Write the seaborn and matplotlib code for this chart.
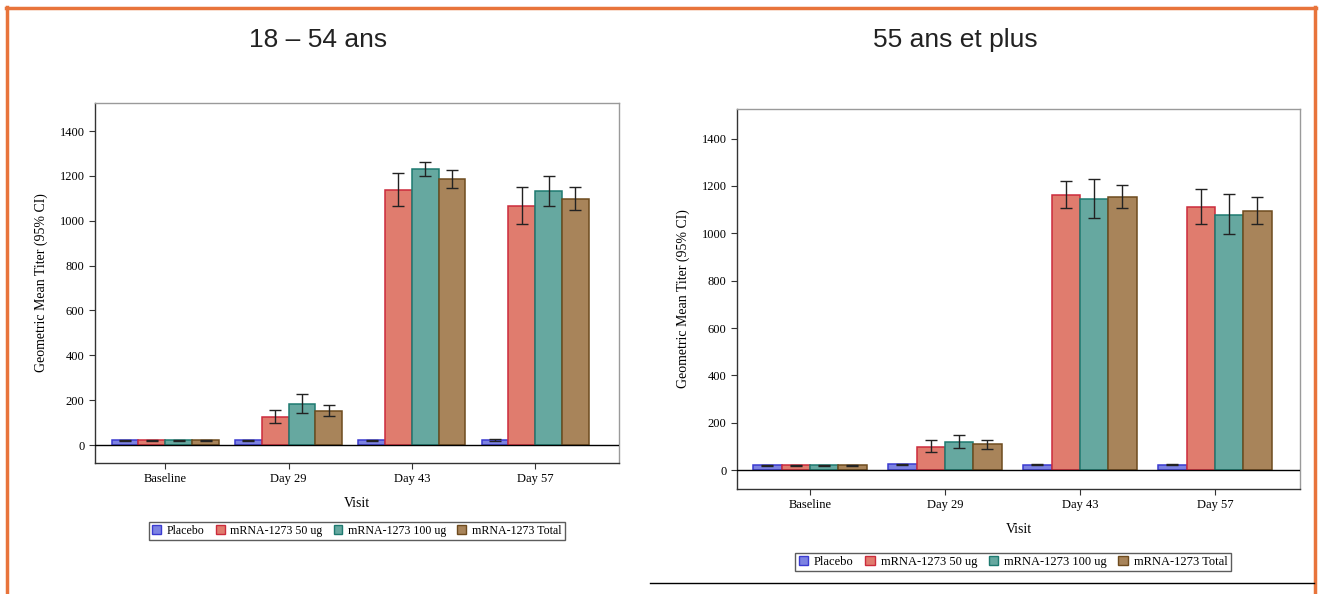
import pandas as pd
import numpy as np
import matplotlib
matplotlib.use("Agg")
import matplotlib.pyplot as plt
from matplotlib.patches import Patch
from matplotlib.lines import Line2D
import seaborn as sns

visits = ["Baseline", "Day 29", "Day 43", "Day 57"]
groups = ["Placebo", "mRNA-1273 50 ug", "mRNA-1273 100 ug", "mRNA-1273 Total"]

# 18 - 54 ans : GMT and 95% CI, one row per group
gmt_young = [[21, 21, 21, 22],
             [21, 126, 1139, 1064],
             [21, 183, 1231, 1133],
             [21, 151, 1186, 1099]]
lo_young = [[19, 19, 19, 20],
            [19, 99, 1067, 986],
            [19, 145, 1198, 1067],
            [20, 129, 1148, 1047]]
hi_young = [[23, 24, 23, 25],
            [23, 157, 1213, 1149],
            [23, 227, 1262, 1198],
            [22, 178, 1225, 1152]]

# 55 ans et plus
gmt_old = [[21, 24, 22, 22],
           [21, 98, 1161, 1112],
           [21, 118, 1146, 1078],
           [21, 108, 1153, 1094]]
lo_old = [[19, 21, 20, 20],
          [19, 75, 1106, 1040],
          [19, 93, 1066, 995],
          [19, 89, 1105, 1040]]
hi_old = [[23, 27, 25, 24],
          [23, 129, 1219, 1188],
          [23, 149, 1229, 1167],
          [23, 129, 1202, 1153]]

yticks = [0, 200, 400, 600, 800, 1000, 1200, 1400]

fills = ["#7C82E2", "#E07C6E", "#66A8A0", "#A8845A"]
edges = ["#3B3BD0", "#CC2B3C", "#1E7A70", "#6E4B1E"]

SERIF = "Liberation Serif"
SANS = "Liberation Sans"

plt.rcParams['font.family'] = SERIF


def long_frame(gmt, lo, hi):
    rows = []
    for g, name in enumerate(groups):
        for v, visit in enumerate(visits):
            rows.append({"Visit": visit, "Group": name, "GMT": gmt[g][v],
                         "lo": lo[g][v], "hi": hi[g][v]})
    return pd.DataFrame(rows)


def panel(ax, df, width, xlim):
    sns.barplot(data=df, x="Visit", y="GMT", hue="Group", order=visits,
                hue_order=groups, palette=fills, errorbar=None, width=width,
                legend=False, ax=ax, saturation=1, linewidth=1.1, zorder=2)
    bar_conts = list(ax.containers)
    for i, cont in enumerate(bar_conts):
        sub = df[df["Group"] == groups[i]].set_index("Visit").loc[visits]
        xs = []
        for bar in cont:
            bar.set_edgecolor(edges[i])
            bar.set_alpha(1)
            xs.append(bar.get_x() + bar.get_width() / 2)
        y = sub["GMT"].to_numpy()
        err = [y - sub["lo"].to_numpy(), sub["hi"].to_numpy() - y]
        ax.errorbar(xs, y, yerr=err, fmt="none", ecolor="#222222",
                    elinewidth=1.0, capsize=4, capthick=1.0, zorder=3)
    ax.axhline(0, color="black", lw=1.0, zorder=4)
    ax.set_ylim(-80, 1525)
    ax.set_xlim(*xlim)
    ax.set_yticks(yticks)
    ax.set_ylabel("Geometric Mean Titer (95% CI)", fontsize=10, labelpad=8)
    ax.set_xlabel("Visit", fontsize=10, labelpad=8)
    ax.tick_params(axis="both", labelsize=9, length=4, width=0.8,
                   direction="out", color="#333333")
    ax.set_facecolor("white")
    for side in ["left", "bottom"]:
        ax.spines[side].set_color("#333333")
        ax.spines[side].set_linewidth(1.0)
    for side in ["top", "right"]:
        ax.spines[side].set_color("#9a9a9a")
        ax.spines[side].set_linewidth(1.0)


fig = plt.figure(figsize=(13.2, 5.94), dpi=100)
fig.patch.set_facecolor("white")

ax1 = fig.add_axes([95 / 1320, 1 - 463 / 594, 524 / 1320, 360 / 594])
ax2 = fig.add_axes([737 / 1320, 1 - 489 / 594, 563 / 1320, 380 / 594])

panel(ax1, long_frame(gmt_young, lo_young, hi_young), 0.87, (-0.57, 3.68))
panel(ax2, long_frame(gmt_old, lo_old, hi_old), 0.84, (-0.54, 3.63))

handles = [Patch(facecolor=fills[i], edgecolor=edges[i], label=groups[i])
           for i in range(len(groups))]
for anchor, fs in [((357 / 1320, 1 - 531 / 594), 8.6),
                   ((1013 / 1320, 1 - 562 / 594), 9)]:
    leg = fig.legend(handles=handles, loc="center", bbox_to_anchor=anchor,
                     ncol=4, fontsize=fs, frameon=True, fancybox=False,
                     handlelength=0.75, handleheight=0.75, handletextpad=0.5,
                     columnspacing=0.9, borderpad=0.25, borderaxespad=0)
    leg.get_frame().set_edgecolor("#333333")
    leg.get_frame().set_linewidth(1.0)

fig.text(318 / 1320, 1 - 40 / 594, "18 – 54 ans", family=SANS, fontsize=19,
         ha="center", va="center", color="#222222")
fig.text(955 / 1320, 1 - 40 / 594, "55 ans et plus", family=SANS, fontsize=19,
         ha="center", va="center", color="#222222")

# orange frame of the slide and rule under the right figure
orange = "#E8743B"
fig.add_artist(Line2D([6 / 1320, 1316 / 1320], [1 - 8 / 594, 1 - 8 / 594],
                      transform=fig.transFigure, color=orange, lw=2.5))
fig.add_artist(Line2D([7 / 1320, 7 / 1320], [0, 1 - 7 / 594],
                      transform=fig.transFigure, color=orange, lw=2.5))
fig.add_artist(Line2D([1315 / 1320, 1315 / 1320], [0, 1 - 7 / 594],
                      transform=fig.transFigure, color=orange, lw=2.5))
fig.add_artist(Line2D([650 / 1320, 1314 / 1320], [1 - 583 / 594, 1 - 583 / 594],
                      transform=fig.transFigure, color="black", lw=1.0))

fig.savefig("out.png", dpi=100)
